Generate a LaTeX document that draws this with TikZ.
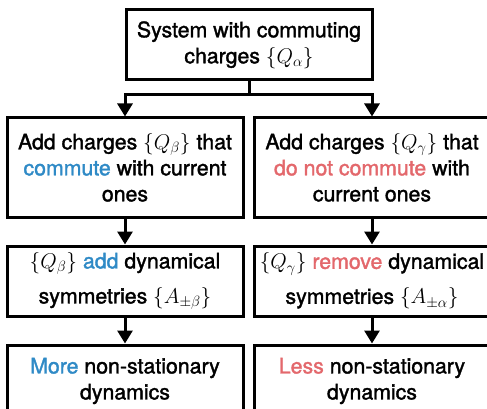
\RequirePackage{fix-cm}
\documentclass[tikz,border=0pt]{standalone}
\usepackage{fontspec}
\setmainfont{TeX Gyre Heros}[FakeBold=1.6]
\usepackage{amsmath}
\usetikzlibrary{arrows.meta,positioning,calc}
\definecolor{chBlue}{HTML}{2F8AC6}
\definecolor{chRed}{HTML}{E3686C}
\tikzset{
  chnode/.style={
    draw, line width=3pt, inner sep=2pt, align=center,
    font=\fontsize{21.3}{26}\selectfont
  },
  chtop/.style={chnode, minimum width=246pt, minimum height=70pt},
  chcol/.style={chnode, minimum width=236pt},
  flowline/.style={line width=3pt},
  flow/.style={flowline, -{Triangle[width=15pt, length=13pt]}}
}

\begin{document}
\begin{tikzpicture}[x=1pt, y=1pt, node distance=26pt]
  \useasboundingbox (0,0) rectangle (487,-409);
  \node[chtop] (sys) at (249,-45) {System with commuting\\charges $\{Q_\alpha\}$};
  % left column: commuting charges
  \node[chcol, minimum height=99pt] (addB) at (125,-167.5) {Add charges $\{Q_\beta\}$ that\\\textcolor{chBlue}{commute} with current\\ones};
  \node[chcol, minimum height=70pt, below=of addB] (symB) {$\{Q_\beta\}$ \textcolor{chBlue}{add} dynamical\\[9pt]symmetries $\{A_{\pm\beta}\}$};
  \node[chcol, minimum height=72pt, below=of symB] (dynB) {\textcolor{chBlue}{More} non-stationary\\dynamics};
  % right column: non-commuting charges
  \node[chcol, minimum height=99pt] (addG) at (372,-167.5) {Add charges $\{Q_\gamma\}$ that\\\textcolor{chRed}{do not commute} with\\current ones};
  \node[chcol, minimum height=70pt, below=of addG] (symG) {$\{Q_\gamma\}$ \textcolor{chRed}{remove} dynamical\\[9pt]symmetries $\{A_{\pm\alpha}\}$};
  \node[chcol, minimum height=72pt, below=of symG] (dynG) {\textcolor{chRed}{Less} non-stationary\\dynamics};
  % connectors
  \coordinate (split) at ($(sys.south)+(0,-13.5)$);
  \draw[flowline] (sys.south) -- (split);
  \draw[flow] (split) -| (addB.north);
  \draw[flow] (split) -| (addG.north);
  \draw[flow] (addB) -- (symB);
  \draw[flow] (symB) -- (dynB);
  \draw[flow] (addG) -- (symG);
  \draw[flow] (symG) -- (dynG);
\end{tikzpicture}
\end{document}
